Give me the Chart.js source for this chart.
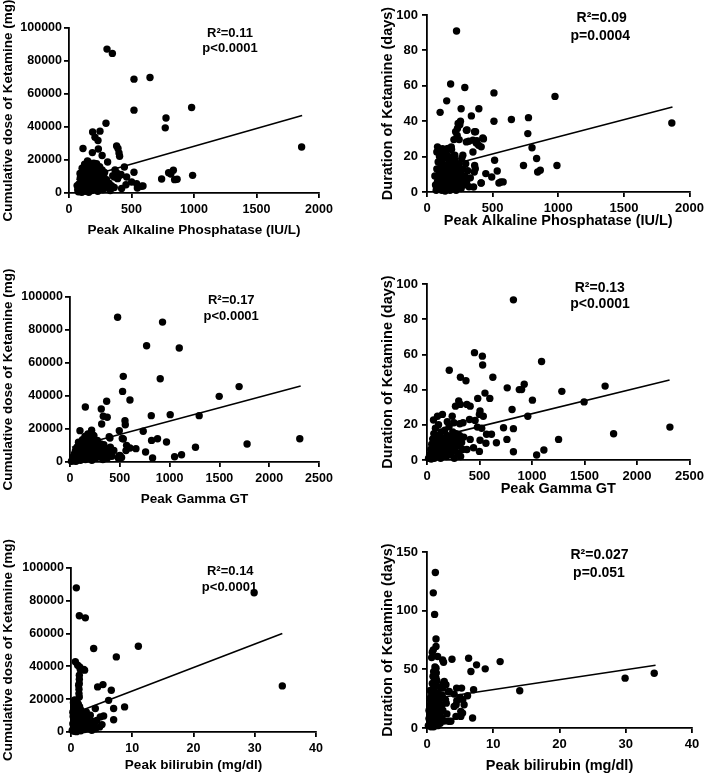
<!DOCTYPE html>
<html><head><meta charset="utf-8">
<script src="https://cdn.jsdelivr.net/npm/chart.js@4/dist/chart.umd.min.js"></script>
<style>
body{margin:0;background:#fff;width:708px;height:776px;position:relative;overflow:hidden;font-family:"Liberation Sans",Arial,sans-serif}
canvas{position:absolute}
.t{position:absolute;font-weight:bold;color:#000;transform:translate(-50%,-50%);white-space:nowrap;line-height:1}
</style></head><body>
<script>
// ---------- tick labels ----------
const doseTicks = [0,20000,40000,60000,80000,100000];
const dayTicks = [0,20,40,60,80,100];
const dayTicksBili = [0,50,100,150];
const alpTicks = [0,500,1000,1500,2000];
const ggtTicks = [0,500,1000,1500,2000,2500];
const biliTicks = [0,10,20,30,40];

// ---------- Panel A: ALP vs cumulative dose ----------
const alpDoseX = [304,347,520,648,520,981,776,770,296,1861,189,248,208,232,381,392,400,405,112,235,187,265,309,443,520,797,835,815,845,865,989,741,461,363,381,416,456,501,541,581,547,592,421,362,155,221,88,368,389,408,
65,70,75,80,85,90,92,95,100,102,105,108,110,115,118,120,122,125,128,130,132,135,138,140,142,145,148,150,152,155,158,160,162,165,168,170,172,175,178,180,182,185,188,190,195,198,200,205,208,212,215,220,225,230,235,240,245,250,255,260,265,270,275,280,285,290,300,310,320,330,340,350];
const alpDoseY = [87200,84600,69000,70000,50200,51800,45500,39500,42300,27900,37000,37500,33800,31800,28500,27000,24300,22300,27000,26700,24500,22700,18800,15800,12600,12300,13800,11500,8100,8300,10700,8500,9700,9700,12300,11200,5000,6700,5700,4100,3000,4300,2700,3300,18800,17800,11800,14000,8700,10700,
4500,2000,800,5500,3000,9000,1500,12000,6500,400,15000,3500,8000,10500,2000,5000,13500,17500,7000,1000,4000,9500,11500,2500,6000,15500,19500,8500,3000,12500,500,5500,10000,7500,14000,2000,16500,4500,9000,11500,1500,6500,13000,3500,8000,18000,5000,10500,2500,7000,14500,4000,12000,1000,9000,6000,16000,3000,11000,7500,14000,2000,5500,9500,12500,4000,8000,3000,6000,1500,4500,10500];
const alpDoseFitX = [60,1865];
const alpDoseFitY = [8000,47000];

// ---------- Panel B: ALP vs duration ----------
const alpDayX = [225,180,288,510,975,150,100,260,395,338,510,643,773,1865,255,250,305,370,768,218,230,205,318,380,393,413,430,800,350,273,80,118,155,185,835,515,363,368,360,735,990,843,863,535,448,493,413,355,548,580,237,232,245,300,362,300,350,375,425,75,112,137,162,187,150,212,562,412,
60,65,70,75,80,85,88,92,95,100,104,108,112,115,118,122,125,128,132,135,138,142,145,148,152,155,158,162,165,168,172,175,178,182,185,188,192,195,198,202,205,210,214,218,222,226,230,235,240,245,250,255,260,265,270,275,280,288,295,302,310,320,330];
const alpDayY = [91,61,59,56,54,51.5,45,47,47,43,40,41,42,39,40,38,35,34,33,34,32,29.6,28.7,29,26.4,25.5,30,25,22.6,20.8,25.5,24.5,24.5,25.5,18.9,17.9,15,13.2,11.3,15,15,11.3,12.3,11.9,10.4,8.5,5.1,2.8,5.1,5.7,38.7,35.9,29.6,34.9,34,28.3,29.3,27.7,30.6,22.6,22,22.6,24.6,24,19.8,20.8,5.7,5.1,
9,4,1,13,6,17,2,10,20,4,14,7,1,11,16,3,8,19,5,12,0.5,15,9,2,21,6,13,10,3,17,8,1,14,5,11,20,7,2,15,9,4,12,18,6,1,10,14,3,8,16,5,11,2,19,7,13,4,9,16,6,12,3,8];
const alpDayFitX = [60,1870];
const alpDayFitY = [13,48];

// ---------- Panel C: GGT vs cumulative dose ----------
const ggtDoseX = [478,929,769,1097,535,906,528,1498,1698,602,368,314,154,334,374,552,555,318,816,1006,1297,735,495,100,217,227,401,535,819,879,969,1260,1778,2307,759,829,1050,1120,568,562,602,662,501,485,394,525,491,518,
15,25,30,40,45,50,55,60,65,70,75,80,85,90,95,100,105,110,115,120,125,130,135,140,145,150,155,160,165,170,175,180,185,190,195,200,210,215,220,230,235,240,250,255,260,270,275,280,290,300,310,320,330,340,350,360,375,390,405,420,440];
const ggtDoseY = [87700,84800,70500,69100,51900,50500,42800,39800,45700,37600,36800,32100,33300,27700,27100,25000,22600,23000,28100,28700,28100,18600,19000,19000,19200,16600,14500,13900,13100,14100,12100,8900,10900,14100,6100,2400,3200,4400,10100,6900,8500,8100,4000,2400,15300,14300,3600,2800,
500,1500,3000,800,5000,2200,7000,400,3500,9000,1200,5500,12000,2500,7500,4000,1000,10000,6000,2000,13500,8000,3000,11000,5000,15500,1500,9000,6500,12500,3500,17000,8500,2000,11500,5500,14000,7000,1000,10000,4000,16000,8000,2500,12000,6000,13000,3000,9500,5000,11000,7500,1500,10500,4500,8000,2500,6000,9000,3500,7000];
const ggtDoseFitX = [20,2316];
const ggtDoseFitY = [9000,46000];

// ---------- Panel D: GGT vs duration ----------
const ggtDayX = [823,452,527,530,1091,212,318,371,627,764,879,901,926,1696,1284,552,598,483,1004,1496,380,411,302,318,271,505,499,536,810,960,405,458,62,100,147,193,240,256,312,343,2313,1777,1253,729,823,761,823,1113,1044,661,614,567,561,505,499,411,443,380,480,521,
15,25,35,40,45,50,55,60,65,70,75,80,85,90,95,100,105,110,115,120,125,130,135,140,145,150,160,165,170,180,185,190,200,205,210,220,225,230,240,245,250,260,265,270,280,290,295,300,310,320,330,340,350];
const ggtDayY = [91,61,59,54,56,51,47,45,47,41,40,40,43,42,39,38,35,35,34,33,31.6,30.6,33.5,31.6,30.6,27.8,25.9,24.9,28.7,24.9,23,22.5,22.7,24.9,25.9,21.7,24.9,21.2,20.6,21.2,18.7,14.9,11.7,18.3,17.8,11.7,4.7,5.7,2.8,9.8,14.6,14.6,9.5,11.2,4.9,11.7,7,6,18.7,18,
1,3,6,0.5,9,2,12,5,15,1,8,18,4,11,7,14,2,20,9,5,13,1,16,7,10,3,12,6,17,9,2,14,5,11,19,8,3,13,6,16,10,1,12,7,15,4,11,8,14,2,10,6,13];
const ggtDayFitX = [20,2310];
const ggtDayFitY = [12,45.5];

// ---------- Panel E: bilirubin vs cumulative dose ----------
const biliDoseX = [0.87,1.36,2.34,29.9,3.7,11.0,7.4,0.71,1.09,1.41,2.07,1.36,1.36,1.25,1.3,1.3,4.35,5.22,6.58,6.14,34.5,6.96,8.75,6.96,3.97,4.78,5.33,5.06,4.67,3.7,2.5,3.15,2.17,2.72,3.4,1.52,2.22,1.35,1.35,
0.2,0.3,0.3,0.4,0.4,0.5,0.5,0.5,0.6,0.6,0.6,0.7,0.7,0.7,0.8,0.8,0.8,0.9,0.9,0.9,1.0,1.0,1.0,1.1,1.1,1.1,1.2,1.2,1.2,1.3,1.3,1.4,1.4,1.5,1.5,1.6,1.6,1.7,1.8,1.8,1.9,2.0,2.1,2.2,2.3,2.4,2.6,2.8,3.0,3.3,3.6,4.0,4.2,0.35,0.45,0.55,0.65,0.75,0.85,0.95];
const biliDoseY = [87900,70900,69600,84900,50900,52300,45800,42800,40700,39700,38100,34600,32200,28500,26100,23400,27500,28900,25500,19300,28100,14300,15300,7500,14300,9200,9800,4500,3100,4100,12200,10200,6100,5100,1000,38100,37700,29600,21400,
1000,5000,12000,18000,2500,8000,15000,500,4000,10000,19500,6500,13000,1500,9000,16500,3000,11000,7000,200,14000,5500,18500,2000,9500,12500,4500,17000,7500,1000,11500,6000,15500,3500,9000,13500,800,7000,4000,10500,2000,8000,5500,1500,6500,3500,8500,2000,5000,3000,6500,2000,7000,9500,13500,6000,16000,11500,4500,17500];
const biliDoseFitX = [0.2,34.5];
const biliDoseFitY = [11000,60000];

// ---------- Panel F: bilirubin vs duration ----------
const biliDayX = [1.26,0.95,1.15,1.36,0.95,1.36,0.7,1.6,2.36,2.5,0.8,1.36,1.3,1.36,3.77,6.28,7.48,8.79,11.04,6.63,29.9,34.3,14.0,4.47,5.22,7.03,6.12,3.6,3.26,4.37,5.1,5.37,6.88,2.6,2.86,2.36,4.1,5.0,4.5,5.4,4.1,4.4,3.36,2.2,2.9,5.6,5.1,
0.2,0.3,0.3,0.4,0.4,0.5,0.5,0.5,0.6,0.6,0.6,0.7,0.7,0.7,0.8,0.8,0.8,0.9,0.9,0.9,1.0,1.0,1.0,1.1,1.1,1.1,1.2,1.2,1.2,1.3,1.3,1.3,1.4,1.4,1.5,1.5,1.5,1.6,1.6,1.7,1.7,1.8,1.8,1.9,2.0,2.0,2.1,2.2,2.3,2.4,2.5,2.6,2.8,3.0,3.2,1.0,1.2,0.9,1.4];
const biliDayY = [132.5,115.2,96.8,75.9,66.5,69.4,60,60.9,58,56,64.5,51,45.9,42.5,58.6,59.4,53.8,50.4,56.6,48.1,42.5,46.7,31.7,34,34,32.6,27.5,5.7,5.7,9.9,9.9,12.7,8.5,39.6,36.8,34,28.9,26,23.2,24.1,18.4,19.8,31.1,18.4,21.2,19.8,14.2,
2,8,15,25,4,12,20,32,1,9,18,28,5,14,22,38,3,11,26,7,17,34,1,13,24,42,6,19,30,10,36,3,16,27,8,22,40,13,2,30,18,6,25,12,35,4,20,9,28,15,38,6,24,12,31,48,52,44,47];
const biliDayFitX = [0.3,34.5];
const biliDayFitY = [24.5,53.5];

// ---------- statistics text ----------
const statR2 = ['R\u00B2=0.11','R\u00B2=0.09','R\u00B2=0.17','R\u00B2=0.13','R\u00B2=0.14','R\u00B2=0.027'];
const statP = ['p<0.0001','p=0.0004','p<0.0001','p<0.0001','p<0.0001','p=0.051'];

// ---------- layout ----------
const LEFT = {fs:13.5, ts:12.5, stat:13};
const RIGHT = {fs:14.5, ts:13, stat:14};
const panels = [
 {xs:alpDoseX, ys:alpDoseY, fx:alpDoseFitX, fy:alpDoseFitY, xt:alpTicks, yt:doseTicks, xTitle:'Peak Alkaline Phosphatase (IU/L)', yTitle:'Cumulative dose of Ketamine (mg)', g:{cl:0,ct:0,cw:345,ch:238,yW:69,pt:28,pr:26,xH:45}, s:LEFT, st:[[230,31.7],[230,46.7]], ypad:2},
 {xs:alpDayX, ys:alpDayY, fx:alpDayFitX, fy:alpDayFitY, xt:alpTicks, yt:dayTicks, xTitle:'Peak Alkaline Phosphatase (IU/L)', yTitle:'Duration of Ketamine (days)', g:{cl:379,ct:0,cw:329,ch:230,yW:48,pt:15,pr:15,xH:38}, s:RIGHT, st:[[601.7,16.7],[600.3,35]], ypad:4},
 {xs:ggtDoseX, ys:ggtDoseY, fx:ggtDoseFitX, fy:ggtDoseFitY, xt:ggtTicks, yt:doseTicks, xTitle:'Peak Gamma GT', yTitle:'Cumulative dose of Ketamine (mg)', g:{cl:0,ct:245,cw:345,ch:262,yW:70,pt:52,pr:26,xH:45}, s:LEFT, st:[[231.3,298.7],[231.2,314.7]], ypad:2},
 {xs:ggtDayX, ys:ggtDayY, fx:ggtDayFitX, fy:ggtDayFitY, xt:ggtTicks, yt:dayTicks, xTitle:'Peak Gamma GT', yTitle:'Duration of Ketamine (days)', g:{cl:379,ct:245,cw:329,ch:253,yW:48,pt:39,pr:14,xH:38}, s:RIGHT, st:[[599.8,287],[600,303]], ypad:4},
 {xs:biliDoseX, ys:biliDoseY, fx:biliDoseFitX, fy:biliDoseFitY, xt:biliTicks, yt:doseTicks, xTitle:'Peak bilirubin (mg/dl)', yTitle:'Cumulative dose of Ketamine (mg)', g:{cl:0,ct:505,cw:345,ch:268,yW:71,pt:63,pr:29,xH:41}, s:LEFT, st:[[230.3,570],[229.5,586]], ypad:2},
 {xs:biliDayX, ys:biliDayY, fx:biliDayFitX, fy:biliDayFitY, xt:biliTicks, yt:dayTicksBili, xTitle:'Peak bilirubin (mg/dl)', yTitle:'Duration of Ketamine (days)', g:{cl:379,ct:505,cw:329,ch:270,yW:48,pt:47,pr:16,xH:47}, s:RIGHT, st:[[599.5,554.3],[599,571.7]], ypad:4}
];

Chart.defaults.font.family = '"Liberation Sans", Arial, sans-serif';
Chart.defaults.font.weight = 'bold';
Chart.defaults.color = '#000';

panels.forEach((p, i) => {
  const cv = document.createElement('canvas');
  cv.width = p.g.cw; cv.height = p.g.ch;
  cv.style.left = p.g.cl + 'px'; cv.style.top = p.g.ct + 'px';
  cv.style.width = p.g.cw + 'px'; cv.style.height = p.g.ch + 'px';
  document.body.appendChild(cv);
  const axisCommon = {
    grid: {display:true, drawOnChartArea:false, drawTicks:true, tickLength:5, color:'#000', lineWidth:1.8},
    border: {display:true, color:'#000', width:1.8}
  };
  new Chart(cv.getContext('2d'), {
    type: 'scatter',
    data: {
      datasets: [
        {type:'scatter', data: p.xs.map((x, k) => ({x, y: p.ys[k]})), backgroundColor:'#000', borderColor:'#000', borderWidth:0, pointRadius:3.7, pointHoverRadius:3.7, clip:false},
        {type:'line', data: p.fx.map((x, k) => ({x, y: p.fy[k]})), borderColor:'#000', borderWidth:1.6, pointRadius:0, fill:false, tension:0, clip:false}
      ]
    },
    options: {
      responsive:false, animation:false, devicePixelRatio:1,
      layout: {padding:{top:p.g.pt, right:p.g.pr, bottom:0, left:0}},
      plugins: {legend:{display:false}, tooltip:{enabled:false}},
      scales: {
        x: Object.assign({
          type:'linear', min:p.xt[0], max:p.xt[p.xt.length-1],
          afterBuildTicks: s => { s.ticks = p.xt.map(v => ({value:v})); },
          afterFit: s => { s.height = p.g.xH; },
          ticks: {font:{size:p.s.ts, weight:'bold'}, padding:4, maxRotation:0, autoSkip:false, callback: v => String(v)},
          title: {display:true, text:p.xTitle, font:{size:p.s.fs, weight:'bold'}, padding:0, color:'#000'}
        }, axisCommon),
        y: Object.assign({
          type:'linear', min:p.yt[0], max:p.yt[p.yt.length-1],
          afterBuildTicks: s => { s.ticks = p.yt.map(v => ({value:v})); },
          afterFit: s => { s.width = p.g.yW; },
          ticks: {font:{size:p.s.ts, weight:'bold'}, padding:p.ypad, autoSkip:false, callback: v => String(v)},
          title: {display:true, text:p.yTitle, font:{size:p.s.fs, weight:'bold'}, padding:0, color:'#000'}
        }, axisCommon)
      }
    }
  });
  [statR2[i], statP[i]].forEach((txt, k) => {
    const d = document.createElement('div');
    d.className = 't';
    d.textContent = txt;
    d.style.fontSize = p.s.stat + 'px';
    d.style.left = p.st[k][0] + 'px';
    d.style.top = p.st[k][1] + 'px';
    document.body.appendChild(d);
  });
});
</script>
</body></html>
